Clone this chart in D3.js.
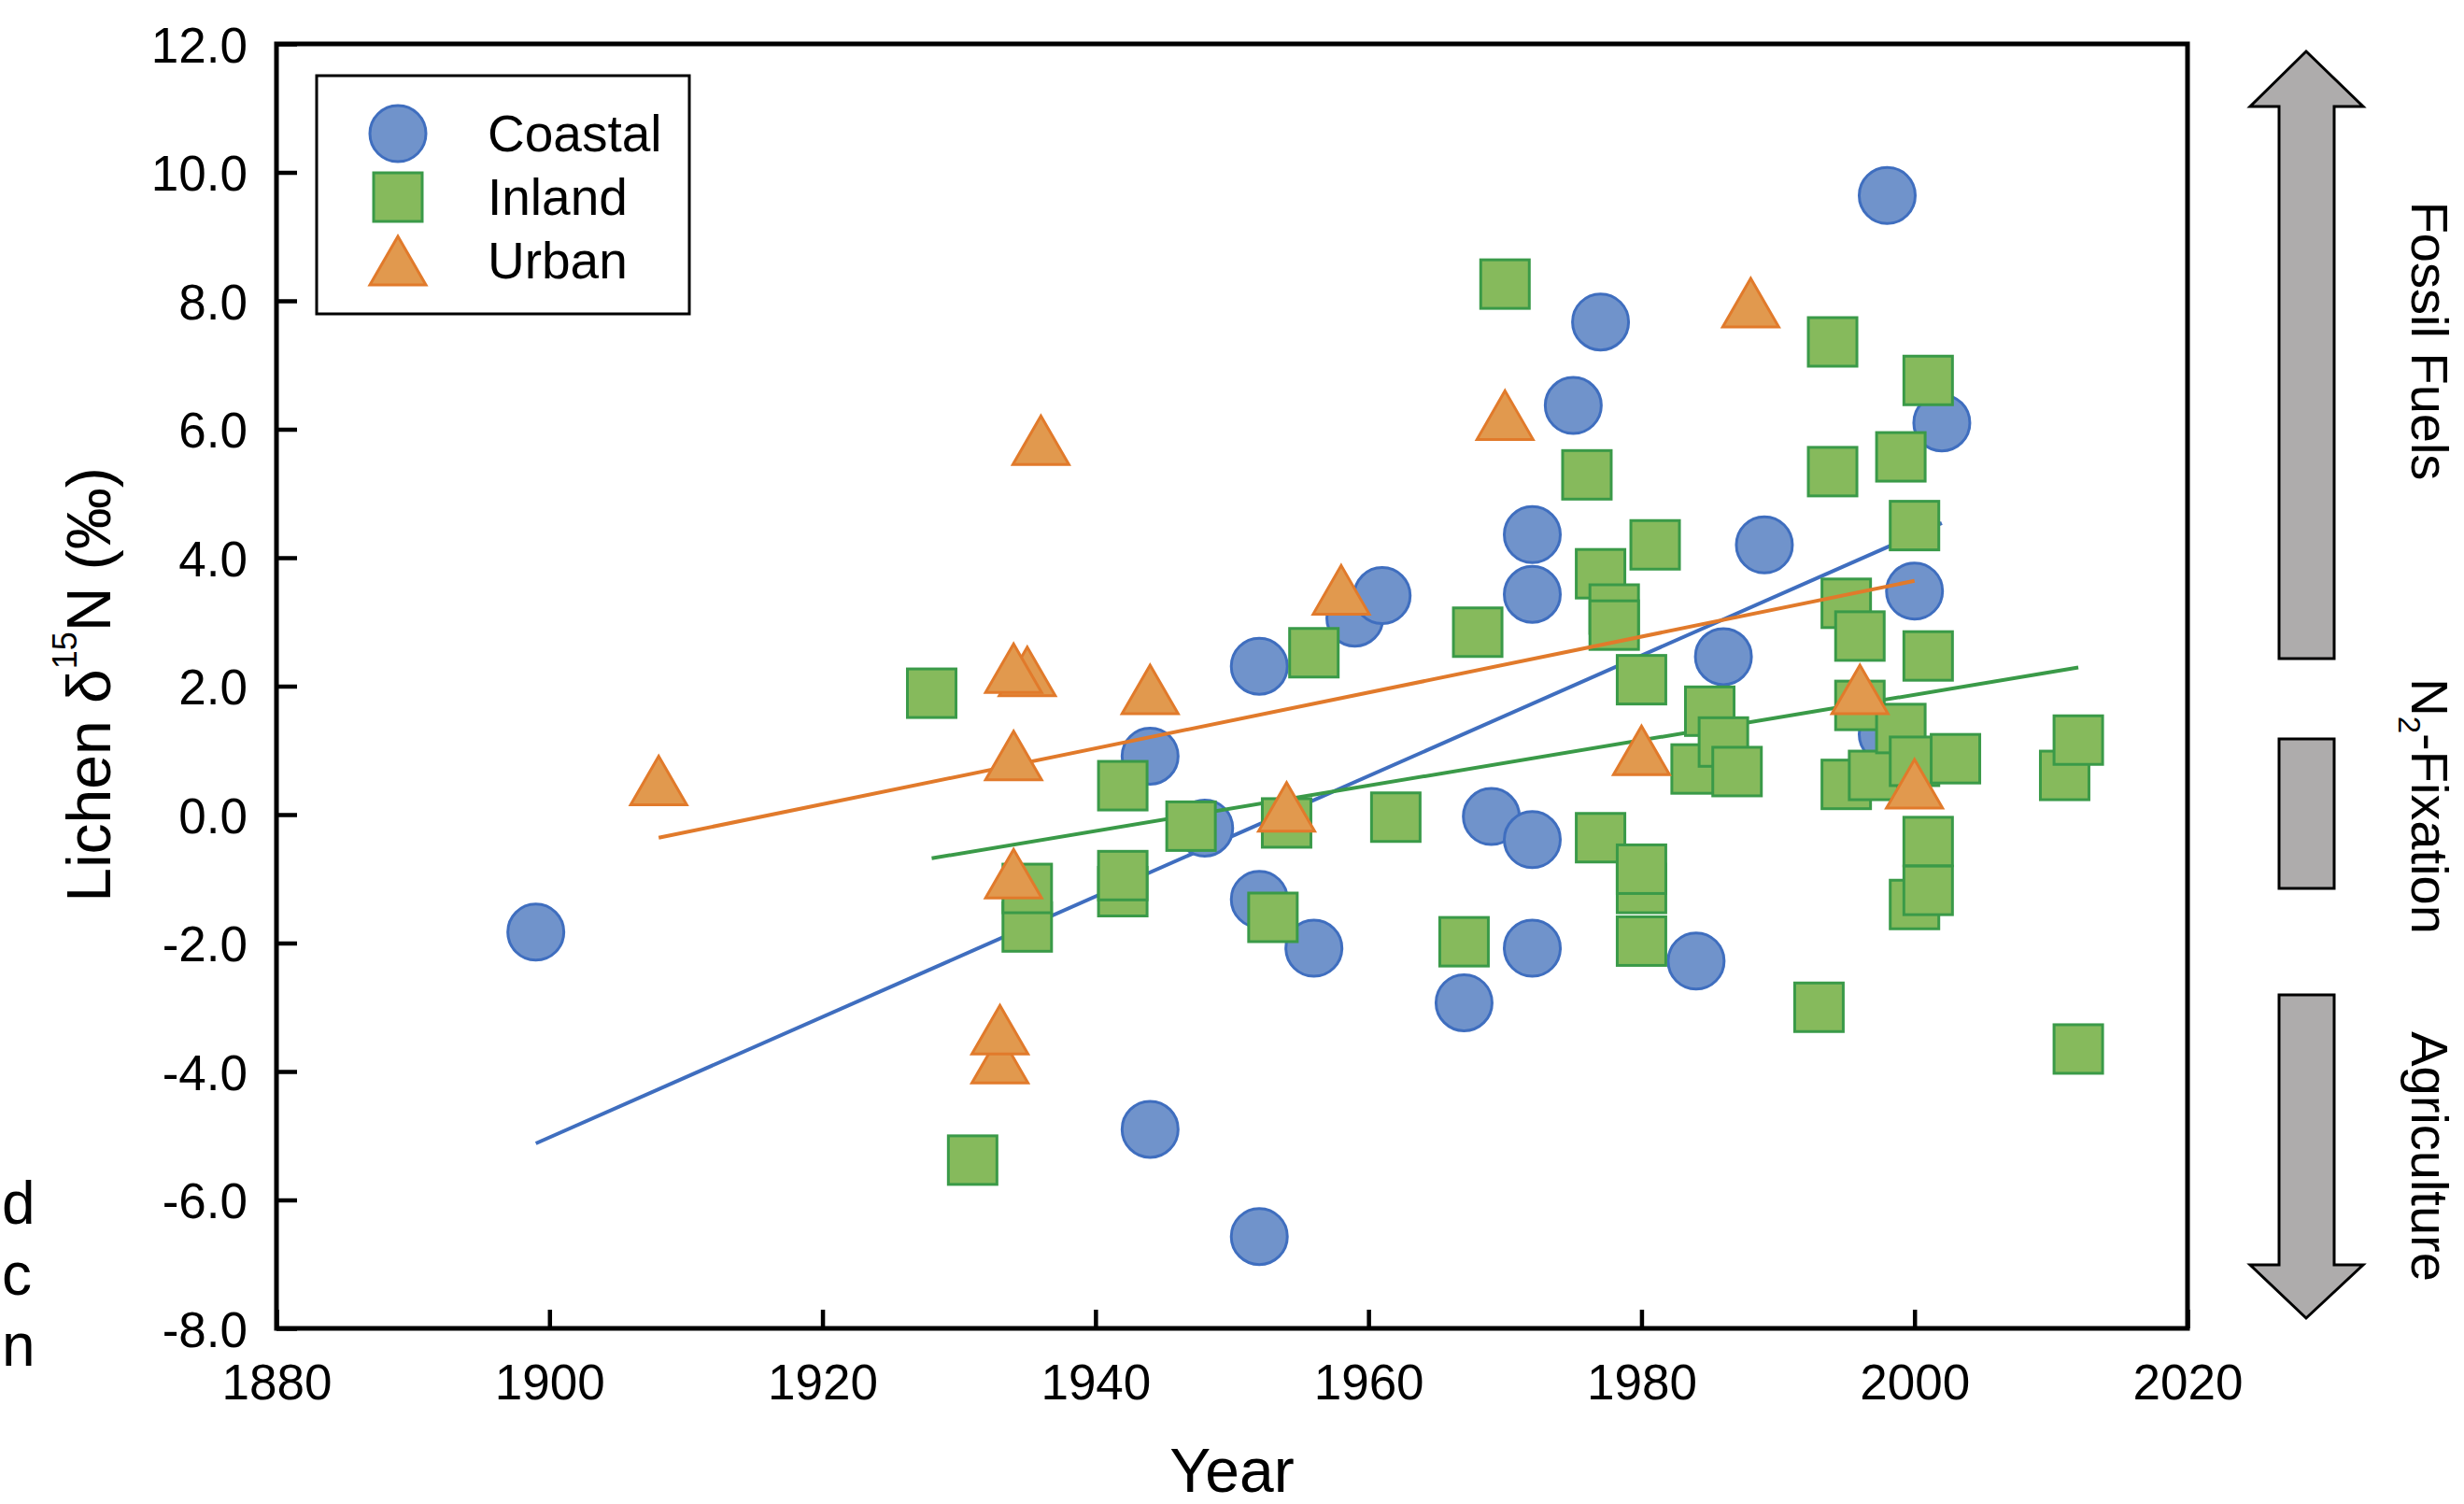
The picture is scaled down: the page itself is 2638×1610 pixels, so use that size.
<!DOCTYPE html>
<html>
<head>
<meta charset="utf-8">
<script src="https://cdn.jsdelivr.net/npm/d3@7"></script>
<style>
  body { margin: 0; background: #fff; }
  text { font-family: "Liberation Sans", Arial, sans-serif; fill: #000; }
</style>
</head>
<body>
<div id="chart"></div>
<script>
// data
var seriesNames = ["Coastal", "Inland", "Urban"];

var coastalYear = [1899, 1944, 1944, 1948, 1952, 1952, 1952, 1956, 1959, 1961, 1967, 1969, 1972, 1972, 1972, 1972,
                   1975, 1977, 1984, 1986, 1989, 1998, 1998, 2000, 2002];
var coastalValue = [-1.83, 0.91, -4.9, -0.21, 2.31, -1.32, -6.57, -2.08, 3.06, 3.41, -2.93, -0.03, -0.39, -2.08, 3.43, 4.36,
                    6.37, 7.67, -2.28, 2.46, 4.2, 9.64, 1.25, 3.48, 6.1];

var inlandYear = [1928, 1931, 1935, 1935, 1942, 1942, 1942, 1947, 1953, 1954, 1956, 1962, 1967, 1968, 1970, 1976,
                  1977, 1977, 1978, 1978, 1980, 1980, 1980, 1980, 1981, 1984, 1985, 1986, 1987, 1993, 1994, 1994,
                  1995, 1995, 1996, 1996, 1997, 1999, 1999, 2000, 2000, 2000, 2001, 2001, 2001, 2001, 2003,
                  2011, 2012, 2012];
var inlandValue = [1.89, -5.38, -1.75, -1.15, 0.45, -1.2, -0.95, -0.18, -1.6, -0.13, 2.52, -0.04, -1.98, 2.84, 8.26, 5.29,
                   3.75, -0.36, 3.2, 2.95, 2.1, -1.15, -0.85, -1.97, 4.2, 0.71, 1.61, 1.13, 0.67, -3.0, 7.36, 5.34,
                   3.29, 0.47, 2.78, 1.7, 0.61, 5.57, 1.34, 4.5, 0.83, -1.4, 6.76, 2.47, -0.42, -1.18, 0.87,
                   0.61, 1.16, -3.65];

var urbanYear = [1908, 1933, 1933, 1934, 1934, 1935, 1934, 1936, 1944, 1954, 1958, 1970, 1980, 1988, 1996, 2000];
var urbanValue = [0.53, -3.8, -3.35, -0.92, 0.92, 2.23, 2.28, 5.83, 1.95, 0.12, 3.5, 6.22, 1.0, 7.97, 1.95, 0.48];

// fitted trend lines (end points as drawn)
var trendStartYear = [1899, 1928, 1908];
var trendEndYear = [2002, 2012, 2000];
var trendStartValue = [-5.12, -0.68, -0.36];
var trendEndValue = [4.54, 2.29, 3.64];

var xTicks = [1880, 1900, 1920, 1940, 1960, 1980, 2000, 2020];
var yTicks = [-8, -6, -4, -2, 0, 2, 4, 6, 8, 10, 12];

var sideLabels = ["Fossil Fuels", "N2-Fixation", "Agriculture"];

var width = 2638;
var height = 1610;

var fills = ["#7093CB", "#86BA5C", "#E1994E"];
var strokes = ["#3F6EBF", "#3A9A48", "#E17A2B"];

var svg = d3.select("#chart")
            .append("svg")
            .attr("width", width)
            .attr("height", height);

var x = d3.scaleLinear().domain([1880, 2020]).range([296, 2342]);
var y = d3.scaleLinear().domain([-8, 12]).range([1422, 47]);

// marker drawing for each series
function drawMarker(sel, i) {
    if (i == 0) {
        sel.append("circle").attr("r", 30);
    } else if (i == 1) {
        sel.append("rect").attr("x", -26).attr("y", -26).attr("width", 52).attr("height", 52);
    } else {
        sel.append("path").attr("d", "M0,-26L30,26L-30,26Z");
    }
    sel.selectAll("*")
        .attr("fill", fills[i])
        .attr("stroke", strokes[i])
        .attr("stroke-width", 3);
}

var seriesData = [
    coastalYear.map(function(d, k) { return {year: d, value: coastalValue[k]}; }),
    inlandYear.map(function(d, k) { return {year: d, value: inlandValue[k]}; }),
    urbanYear.map(function(d, k) { return {year: d, value: urbanValue[k]}; })
];

var plot = svg.append("g");

// each series: trend line first, then its points
seriesData.forEach(function(pts, i) {
    plot.append("line")
        .attr("x1", x(trendStartYear[i]))
        .attr("y1", y(trendStartValue[i]))
        .attr("x2", x(trendEndYear[i]))
        .attr("y2", y(trendEndValue[i]))
        .attr("stroke", strokes[i])
        .attr("stroke-width", 4);

    plot.selectAll("g.s" + i)
        .data(pts)
        .enter()
        .append("g")
        .attr("class", "s" + i)
        .attr("transform", function(d) { return "translate(" + x(d.year) + "," + y(d.value) + ")"; })
        .each(function() { drawMarker(d3.select(this), i); });
});

// axes, ticks pointing inward
var yAxis = d3.axisLeft(y)
    .tickValues(yTicks)
    .tickFormat(function(d) { return d.toFixed(1); })
    .tickSizeInner(-22)
    .tickSizeOuter(0)
    .tickPadding(31);

var xAxis = d3.axisBottom(x)
    .tickValues(xTicks)
    .tickFormat(function(d) { return d; })
    .tickSizeInner(-20)
    .tickSizeOuter(0)
    .tickPadding(38);

var gy = svg.append("g").attr("transform", "translate(296,0)").call(yAxis);
var gx = svg.append("g").attr("transform", "translate(0,1422)").call(xAxis);

[gx, gy].forEach(function(g) {
    g.select(".domain").remove();
    g.selectAll(".tick line").attr("stroke", "#000").attr("stroke-width", 4.5);
    g.selectAll(".tick text")
        .attr("font-family", "'Liberation Sans', Arial, sans-serif")
        .attr("font-size", 53)
        .attr("fill", "#000");
});
gy.selectAll(".tick text").attr("dy", "0.36em");

// frame
svg.append("rect")
    .attr("x", 296).attr("y", 47)
    .attr("width", 2342 - 296).attr("height", 1422 - 47)
    .attr("fill", "none")
    .attr("stroke", "#000")
    .attr("stroke-width", 5);

// axis titles
svg.append("text")
    .attr("x", 1319).attr("y", 1597)
    .attr("text-anchor", "middle")
    .attr("font-size", 66)
    .text("Year");

var yl = svg.append("text")
    .attr("transform", "translate(118,733) rotate(-90)")
    .attr("text-anchor", "middle")
    .attr("font-size", 66);
yl.append("tspan").text("Lichen \u03b4");
yl.append("tspan").attr("font-size", 36).attr("dy", -36).text("15");
yl.append("tspan").attr("dy", 36).text("N (\u2030)");

// legend
var legend = svg.append("g");
legend.append("rect")
    .attr("x", 339).attr("y", 81)
    .attr("width", 399).attr("height", 255)
    .attr("fill", "#fff")
    .attr("stroke", "#000")
    .attr("stroke-width", 3);

seriesNames.forEach(function(name, i) {
    var cy = 143 + i * 68;
    var m = legend.append("g").attr("transform", "translate(426," + cy + ")");
    drawMarker(m, i);
    legend.append("text")
        .attr("x", 522).attr("y", cy + 19)
        .attr("font-size", 55)
        .text(name);
});

// arrows on the right
var arrowFill = "#AEACAC";
svg.append("path")
    .attr("d", "M2469,55L2530,114L2499,114L2499,705L2440,705L2440,114L2409,114Z")
    .attr("fill", arrowFill).attr("stroke", "#000").attr("stroke-width", 3).attr("stroke-linejoin", "miter");
svg.append("rect")
    .attr("x", 2440).attr("y", 791).attr("width", 59).attr("height", 160)
    .attr("fill", arrowFill).attr("stroke", "#000").attr("stroke-width", 3);
svg.append("path")
    .attr("d", "M2469,1411L2530,1354L2499,1354L2499,1065L2440,1065L2440,1354L2409,1354Z")
    .attr("fill", arrowFill).attr("stroke", "#000").attr("stroke-width", 3).attr("stroke-linejoin", "miter");

// side labels, kept just inside the right edge
var sideY = [365, 863, 1238];
sideLabels.forEach(function(lbl, i) {
    var t = svg.append("text")
        .attr("transform", "translate(2582," + sideY[i] + ") rotate(90)")
        .attr("text-anchor", "middle")
        .attr("font-family", "'DejaVu Sans', sans-serif")
        .attr("font-size", 56);
    if (lbl.indexOf("N2") == 0) {
        t.append("tspan").text("N");
        t.append("tspan").attr("font-size", 33).attr("dy", 14).text("2");
        t.append("tspan").attr("dy", -14).text(lbl.slice(2));
    } else {
        t.text(lbl);
    }
});

// stray letters at the left edge
["d", "c", "n"].forEach(function(ch, i) {
    svg.append("text")
        .attr("x", 2).attr("y", 1310 + i * 76)
        .attr("font-size", 64)
        .text(ch);
});
</script>
</body>
</html>
